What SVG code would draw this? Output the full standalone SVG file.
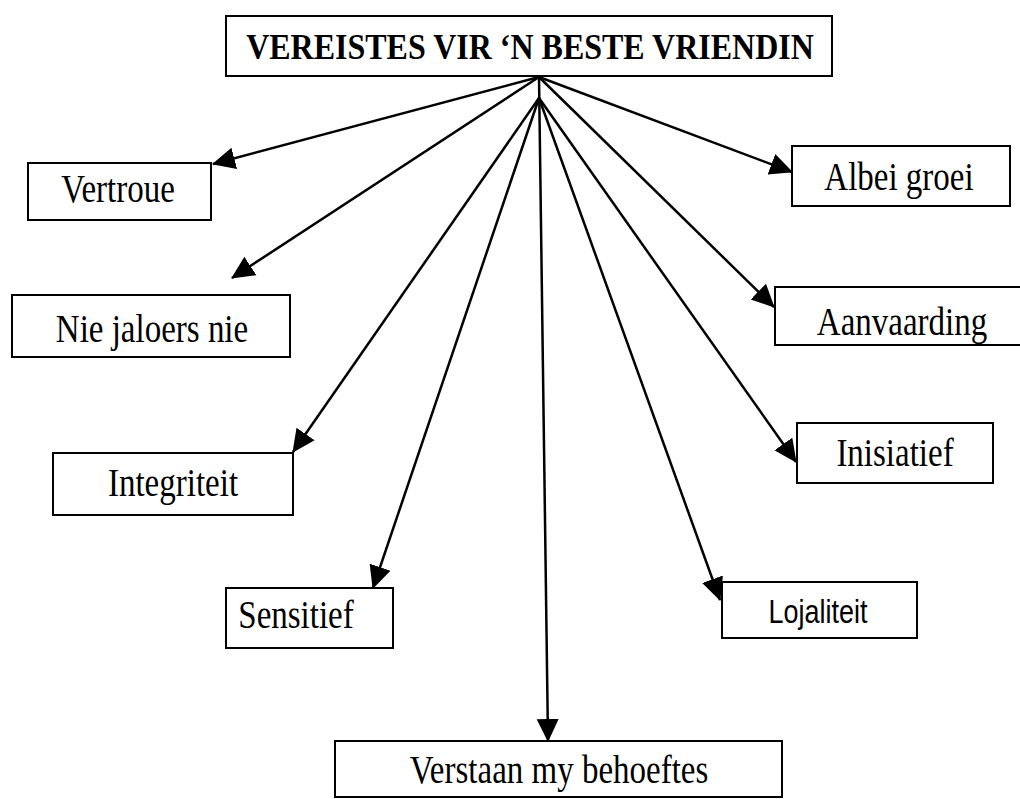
<svg xmlns="http://www.w3.org/2000/svg" width="1020" height="799" viewBox="0 0 1020 799">
<style>
.box{fill:#fff;stroke:#000;stroke-width:2}
.t{font-family:"Liberation Serif","Times New Roman",serif;font-size:33px;fill:#000;text-anchor:middle}
.ts{font-family:"Liberation Sans",Arial,sans-serif;font-size:27px;fill:#000;text-anchor:middle}
.title{font-family:"Liberation Serif","Times New Roman",serif;font-size:32px;font-weight:bold;fill:#000;text-anchor:middle}
.c{stroke:#000;stroke-width:2.5;fill:none;marker-end:url(#ah)}
</style>
<defs>
<marker id="ah" markerUnits="userSpaceOnUse" markerWidth="24" markerHeight="24" refX="22" refY="12" orient="auto" viewBox="0 0 24 24">
<path d="M0,1 L23,12 L0,23 z" fill="#000"/>
</marker>
</defs>
<rect width="1020" height="799" fill="#fff"/>
<g id="connectors">
<line class="c" x1="539" y1="77" x2="213" y2="164"/>
<line class="c" x1="539" y1="77" x2="232" y2="278"/>
<line class="c" x1="539" y1="98" x2="293" y2="452"/>
<line class="c" x1="539" y1="98" x2="373" y2="588"/>
<line class="c" x1="539" y1="77" x2="548" y2="741"/>
<line class="c" x1="539" y1="98" x2="720" y2="600"/>
<line class="c" x1="539" y1="98" x2="796" y2="462"/>
<line class="c" x1="539" y1="77" x2="774" y2="307"/>
<line class="c" x1="539" y1="77" x2="792" y2="172"/>
</g>
<g id="title">
<rect class="box" x="226" y="16" width="606" height="60"/>
<text class="title" transform="translate(530,59) scale(1,1.15)">VEREISTES VIR ‘N BESTE VRIENDIN</text>
</g>
<g id="vertroue">
<rect class="box" x="28" y="163" width="183" height="57"/>
<text class="t" transform="translate(118,202) scale(1,1.2)">Vertroue</text>
</g>
<g id="nie-jaloers-nie">
<rect class="box" x="12" y="295" width="278" height="62"/>
<text class="t" transform="translate(152,342) scale(1,1.2)">Nie jaloers nie</text>
</g>
<g id="integriteit">
<rect class="box" x="53" y="453" width="240" height="62"/>
<text class="t" transform="translate(173,496) scale(1,1.2)">Integriteit</text>
</g>
<g id="sensitief">
<rect class="box" x="226" y="588" width="167" height="60"/>
<text class="t" transform="translate(296,628) scale(1,1.2)">Sensitief</text>
</g>
<g id="verstaan">
<rect class="box" x="335" y="741" width="447" height="56"/>
<text class="t" transform="translate(559,783) scale(1,1.2)">Verstaan my behoeftes</text>
</g>
<g id="lojaliteit">
<rect class="box" x="722" y="582" width="195" height="56"/>
<text class="ts" transform="translate(818,623) scale(1,1.2)">Lojaliteit</text>
</g>
<g id="inisiatief">
<rect class="box" x="797" y="423" width="196" height="60"/>
<text class="t" transform="translate(895,466) scale(1,1.2)">Inisiatief</text>
</g>
<g id="aanvaarding">
<rect class="box" x="775" y="287" width="260" height="58"/>
<text class="t" transform="translate(902,335) scale(1,1.2)">Aanvaarding</text>
</g>
<g id="albei-groei">
<rect class="box" x="792" y="146" width="218" height="60"/>
<text class="t" transform="translate(899,190) scale(1,1.2)">Albei groei</text>
</g>
</svg>
